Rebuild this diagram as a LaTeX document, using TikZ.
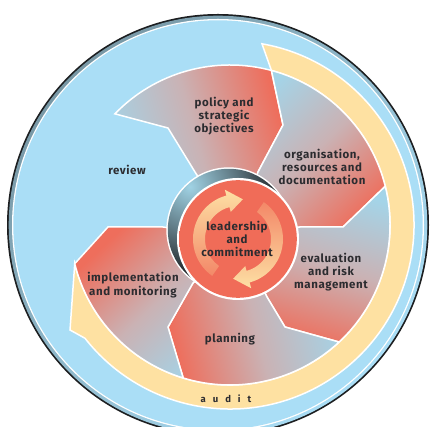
\documentclass[tikz,border=0pt]{standalone}
\usepackage{fontspec}
\setmainfont{Fira Sans}
\newfontfamily\labelfont[LetterSpace=5]{Fira Sans}
\usepackage{tikz}
\usetikzlibrary{positioning}
\usepackage{xcolor}
\definecolor{SkyBlue}{RGB}{170,222,246}
\definecolor{RimDark}{RGB}{28,30,32}
\definecolor{RimGrey}{RGB}{120,152,166}
\definecolor{AuditYellow}{RGB}{254,225,162}
\definecolor{PetalRed}{RGB}{238,110,92}
\definecolor{PetalMid}{RGB}{202,178,180}
\definecolor{PetalBlue}{RGB}{164,212,232}
\definecolor{CoreRed}{RGB}{240,108,88}
\definecolor{CoreGlow}{RGB}{246,150,120}
\definecolor{ArrowPale}{RGB}{253,224,164}
\definecolor{ArrowDeep}{RGB}{243,136,104}
\definecolor{ShellLight}{RGB}{160,210,228}
\definecolor{LabelText}{RGB}{44,44,48}
\newcommand{\widespaced}{\spaceskip=7pt\relax}

% soft lighter band inside the centre disc
\pgfdeclareradialshading{coreglow}{\pgfpoint{0bp}{0bp}}{color(0bp)=(CoreRed); color(29bp)=(CoreRed); color(39bp)=(CoreGlow); color(47bp)=(CoreRed); color(50bp)=(CoreRed)}

\begin{document}
\begin{tikzpicture}[x=1pt, y=1pt,
    petal/.style={draw=white, line width=1.5pt, top color=PetalRed, bottom color=PetalBlue, middle color=PetalMid},
    seglabel/.style={align=center, text=LabelText, inner sep=0pt,
        font=\labelfont\bfseries\fontsize{11.5}{13.3}\selectfont},
]
\useasboundingbox (0,0) rectangle (430,427);
\clip (0,0) rectangle (430,427);

\coordinate (rimc) at (218,202);
\coordinate (hub) at (230,202);
\coordinate (core) at (238,188);
\coordinate (shellc) at (228.8,197.2);

% outer disc with its rim
\fill[RimDark] (rimc) circle (211);
\shade[top color=RimGrey, bottom color=SkyBlue, shading angle=45] (rimc) circle (209.3);
\fill[white] (rimc) circle (206);
\fill[SkyBlue] (rimc) circle (204.7);

% audit band
\path[draw=white, line width=1.5pt, fill=AuditYellow]
    ([shift={(80:184)}]hub) arc[start angle=80, end angle=-142, radius=184]
    -- (70,97) -- ([shift={(-166:160)}]hub)
    arc[start angle=-166, end angle=75, radius=160] -- cycle;

% the five petals, clockwise from the top
\path[petal, shading angle=-74.5]
    ([shift={(136:160)}]hub) arc[start angle=136, end angle=75, radius=160]
    -- (283,302) -- (258,255) -- (core) -- (195,255) -- (168,299) -- cycle;
\path[petal, shading angle=-135.5]
    ([shift={(75:160)}]hub) arc[start angle=75, end angle=14, radius=160]
    -- (343,200) -- (300,200) -- (core) -- (258,255) -- (283,302) -- cycle;
\path[petal, shading angle=163.5]
    ([shift={(14:160)}]hub) arc[start angle=14, end angle=-47, radius=160]
    -- (285,100) -- (267,130) -- (core) -- (300,200) -- (343,200) -- cycle;
\path[petal, shading angle=103]
    ([shift={(-47:160)}]hub) arc[start angle=-47, end angle=-107, radius=160]
    -- (168,100) -- (193,144) -- (core) -- (267,130) -- (285,100) -- cycle;
\path[petal, shading angle=43.5]
    ([shift={(-107:160)}]hub) arc[start angle=-107, end angle=-166, radius=160]
    -- (108,200) -- (163,200) -- (core) -- (193,144) -- (168,100) -- cycle;

% dark shell peeking out behind the centre disc
\fill[white] (shellc) circle (62.5);
\begin{scope}
  \clip (shellc) circle (61);
  \shade[inner color=ShellLight, outer color=RimDark] ([shift={(132:58)}]shellc) circle (92);
\end{scope}

% centre disc
\fill[white] (core) circle (61);
\shade[shading=coreglow] (core) circle (58.8);

% turning arrows
\shade[top color=ArrowPale, bottom color=ArrowDeep]
    ([shift={(235:45)}]core) arc[start angle=235, end angle=105, radius=45]
    -- ([shift={(105:51)}]core) -- ([shift={(83:40)}]core) -- ([shift={(105:28)}]core)
    -- ([shift={(105:33)}]core) arc[start angle=105, end angle=235, radius=33] -- cycle;
\shade[top color=ArrowDeep, bottom color=ArrowPale]
    ([shift={(55:45)}]core) arc[start angle=55, end angle=-75, radius=45]
    -- ([shift={(-75:51)}]core) -- ([shift={(-97:40)}]core) -- ([shift={(-75:28)}]core)
    -- ([shift={(-75:33)}]core) arc[start angle=-75, end angle=55, radius=33] -- cycle;

% labels
\node[seglabel] (policy) at (224,311) {policy and\\strategic\\objectives};
\node[seglabel] (organisation) at (322,260) {organisation,\\resources and\\documentation};
\node[seglabel] (evaluation) at (331,155) {evaluation\\and risk\\management};
\node[seglabel] (planning) at (230,88) {planning};
\node[seglabel] (implementation) at (133,142) {implementation\\and monitoring};
\node[seglabel] (review) at (127,257) {review};
\node[seglabel] (leadership) at (237,188) {leadership\\and\\commitment};
\node[seglabel, font=\labelfont\bfseries\fontsize{9.5}{11}\selectfont\widespaced] (audit) at (226,28) {a u d i t};
\end{tikzpicture}
\end{document}
